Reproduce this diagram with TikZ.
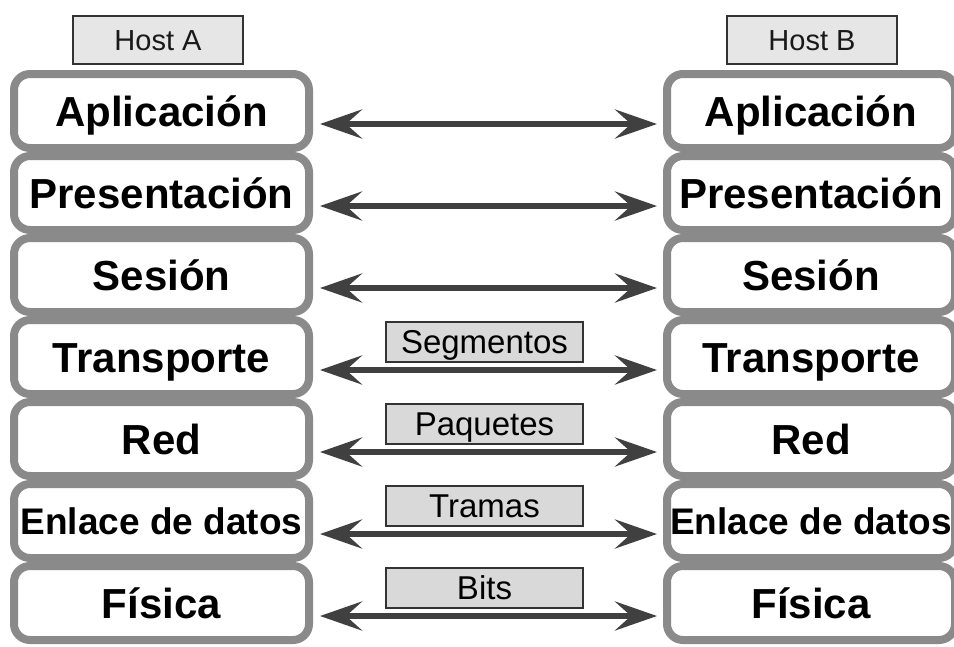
\documentclass[tikz,border=0pt]{standalone}
\usepackage{fontspec}
\setmainfont{Liberation Sans}
\usetikzlibrary{arrows.meta}
\definecolor{layerframe}{HTML}{8A8A8A}
\definecolor{linkgray}{HTML}{404040}
\definecolor{hostfill}{HTML}{E6E6E6}
\definecolor{pdufill}{HTML}{D9D9D9}
\definecolor{tagframe}{HTML}{333333}
\begin{document}
\begin{tikzpicture}[x=1pt,y=-1pt,
  layer/.style={draw=layerframe, line width=8pt, rounded corners=16pt, fill=white,
    inner sep=0pt, outer sep=0pt, minimum height=74pt, text height=30pt, text depth=0pt,
    font=\bfseries\fontsize{42}{48}\selectfont},
  narrowlayer/.style={text height=26.5pt, font=\bfseries\fontsize{37}{44}\selectfont},
  hosttag/.style={draw=tagframe, line width=1.6pt, fill=hostfill, inner sep=0pt,
    minimum width=170pt, minimum height=48pt, text height=21pt, text depth=0pt,
    text=black!90, font=\fontsize{29}{34}\selectfont},
  pdutag/.style={draw=tagframe, line width=1.6pt, fill=pdufill, inner sep=0pt,
    minimum width=197pt, minimum height=40pt, text height=23.5pt, text depth=0pt,
    font=\fontsize{33}{38}\selectfont},
  link/.style={draw=linkgray, line width=6pt,
    {Stealth[length=42pt,width=29pt,inset=16pt]}-{Stealth[length=42pt,width=29pt,inset=16pt]}}
]
\useasboundingbox (0,0) rectangle (954,646);

% host titles
\node[hosttag] (hostA) at (158,40) {Host A};
\node[hosttag] (hostB) at (812,40) {Host B};

% the seven layers on each host
\foreach \i/\name/\extra in {0/Aplicación/,1/Presentación/,2/Sesión/,3/Transporte/,
    4/Red/,5/Enlace de datos/narrowlayer,6/Física/}{
  \pgfmathsetmacro{\cy}{111+82*\i}
  \node[layer,\extra,minimum width=295pt] (L\i) at (161.5,\cy) {\name};
  \node[layer,\extra,minimum width=288pt] (R\i) at (811,\cy) {\name};
}

% peer-to-peer links between matching layers
\foreach \i in {0,...,6}{
  \draw[link] ([xshift=11pt,yshift=-13pt]L\i.east) -- ([xshift=-10pt,yshift=-13pt]R\i.west);
}

% data units of the lower layers
\foreach \i/\pdu in {3/Segmentos,4/Paquetes,5/Tramas,6/Bits}{
  \pgfmathsetmacro{\ty}{111+82*\i-15}
  \node[pdutag] (pdu\i) at (484.5,\ty) {\pdu};
}
\end{tikzpicture}
\end{document}
